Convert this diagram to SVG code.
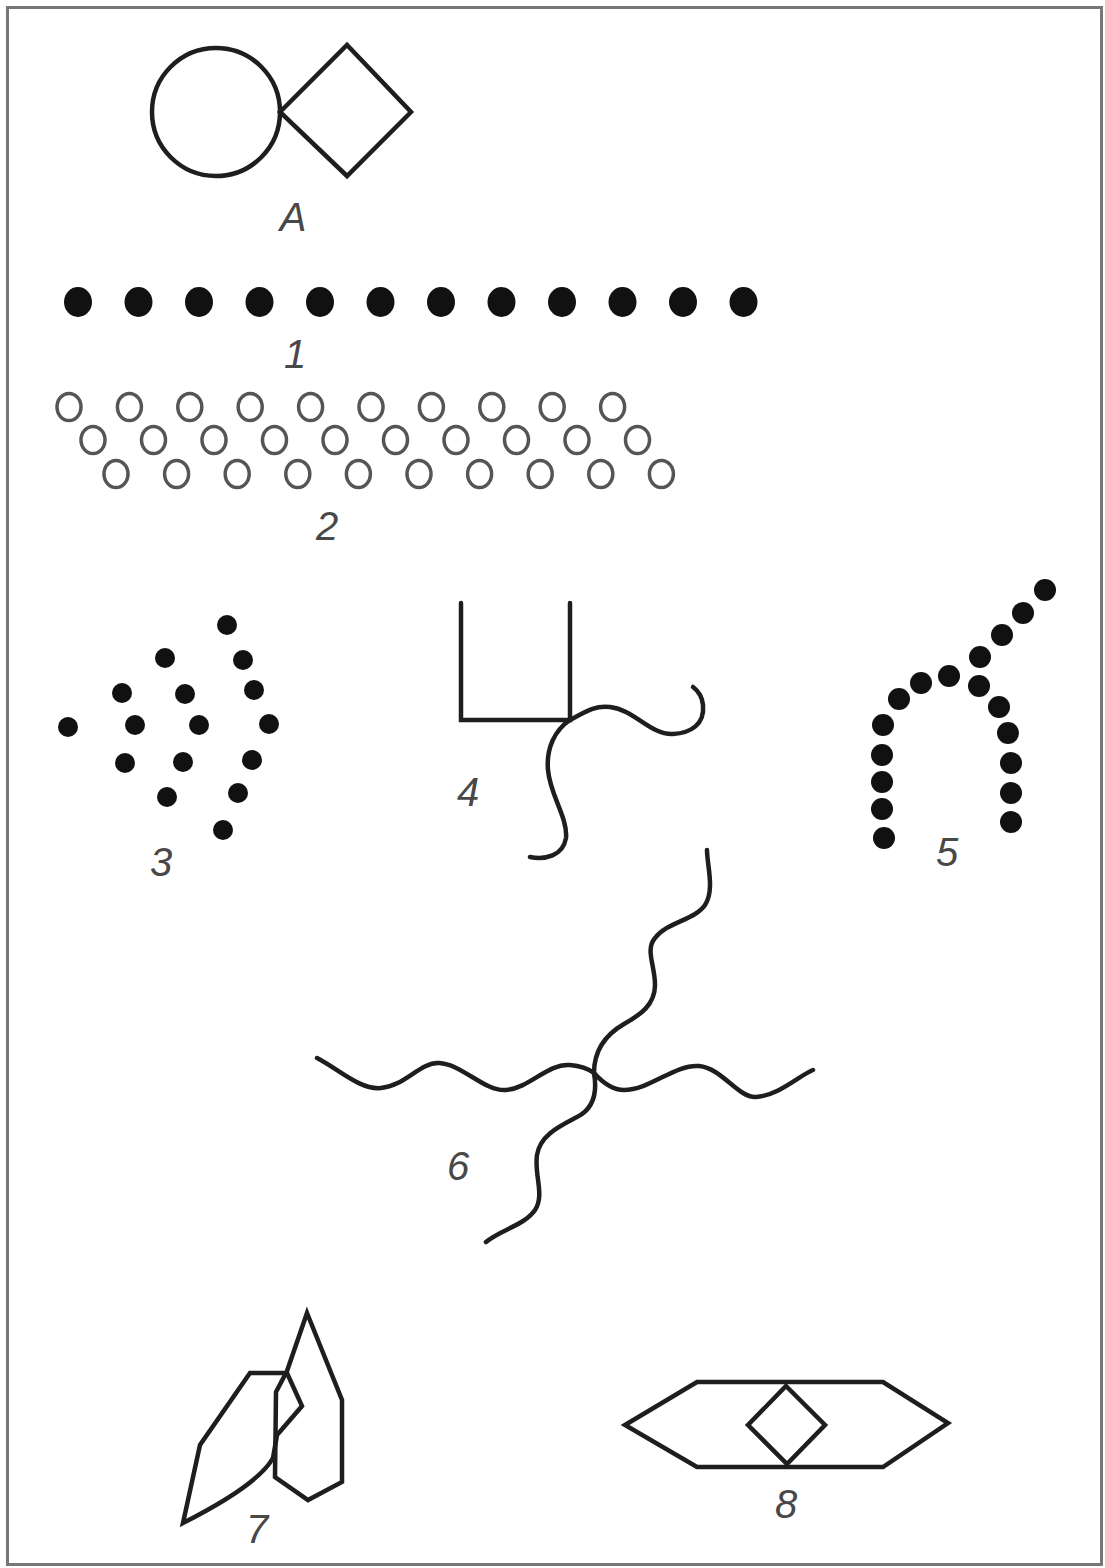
<svg xmlns="http://www.w3.org/2000/svg" width="1105" height="1568" viewBox="0 0 1105 1568">
<style>
.ln{fill:none;stroke:#1e1e1e;stroke-width:4.5;stroke-linejoin:miter;stroke-linecap:round}
.dot{fill:#111}
.oc{fill:none;stroke:#555;stroke-width:3.5}
.lbl{font-family:"Liberation Sans",Arial,sans-serif;font-style:italic;font-size:40px;fill:#484848;text-anchor:middle}
</style>
<rect x="0" y="0" width="1105" height="1568" fill="#fff"/>
<rect x="7.5" y="7.5" width="1094" height="1557" fill="none" stroke="#777" stroke-width="3"/>

<g id="figA">
<circle class="ln" cx="216" cy="112" r="64"/>
<polygon class="ln" points="280,112 347,45 411,112 347,176"/>
<text class="lbl" x="293" y="231">A</text>
</g>

<g id="fig1">
<g class="dot">
<ellipse cx="78" cy="302" rx="14" ry="15"/>
<ellipse cx="138.5" cy="302" rx="14" ry="15"/>
<ellipse cx="199" cy="302" rx="14" ry="15"/>
<ellipse cx="259.5" cy="302" rx="14" ry="15"/>
<ellipse cx="320" cy="302" rx="14" ry="15"/>
<ellipse cx="380.5" cy="302" rx="14" ry="15"/>
<ellipse cx="441" cy="302" rx="14" ry="15"/>
<ellipse cx="501.5" cy="302" rx="14" ry="15"/>
<ellipse cx="562" cy="302" rx="14" ry="15"/>
<ellipse cx="622.5" cy="302" rx="14" ry="15"/>
<ellipse cx="683" cy="302" rx="14" ry="15"/>
<ellipse cx="743.5" cy="302" rx="14" ry="15"/>
</g>
<text class="lbl" x="295" y="368">1</text>
</g>

<g id="fig2">
<g class="oc">
<ellipse cx="69" cy="407" rx="12" ry="13.5"/><ellipse cx="129.4" cy="407" rx="12" ry="13.5"/><ellipse cx="189.8" cy="407" rx="12" ry="13.5"/><ellipse cx="250.2" cy="407" rx="12" ry="13.5"/><ellipse cx="310.6" cy="407" rx="12" ry="13.5"/><ellipse cx="371" cy="407" rx="12" ry="13.5"/><ellipse cx="431.4" cy="407" rx="12" ry="13.5"/><ellipse cx="491.8" cy="407" rx="12" ry="13.5"/><ellipse cx="552.2" cy="407" rx="12" ry="13.5"/><ellipse cx="612.6" cy="407" rx="12" ry="13.5"/>
<ellipse cx="93" cy="440" rx="12" ry="13.5"/><ellipse cx="153.5" cy="440" rx="12" ry="13.5"/><ellipse cx="214" cy="440" rx="12" ry="13.5"/><ellipse cx="274.5" cy="440" rx="12" ry="13.5"/><ellipse cx="335" cy="440" rx="12" ry="13.5"/><ellipse cx="395.5" cy="440" rx="12" ry="13.5"/><ellipse cx="456" cy="440" rx="12" ry="13.5"/><ellipse cx="516.5" cy="440" rx="12" ry="13.5"/><ellipse cx="577" cy="440" rx="12" ry="13.5"/><ellipse cx="637.5" cy="440" rx="12" ry="13.5"/>
<ellipse cx="116" cy="474" rx="12" ry="13.5"/><ellipse cx="176.6" cy="474" rx="12" ry="13.5"/><ellipse cx="237.2" cy="474" rx="12" ry="13.5"/><ellipse cx="297.8" cy="474" rx="12" ry="13.5"/><ellipse cx="358.4" cy="474" rx="12" ry="13.5"/><ellipse cx="419" cy="474" rx="12" ry="13.5"/><ellipse cx="479.6" cy="474" rx="12" ry="13.5"/><ellipse cx="540.2" cy="474" rx="12" ry="13.5"/><ellipse cx="600.8" cy="474" rx="12" ry="13.5"/><ellipse cx="661.4" cy="474" rx="12" ry="13.5"/>
</g>
<text class="lbl" x="327" y="540">2</text>
</g>

<g id="fig3">
<g class="dot">
<circle cx="227" cy="625" r="10"/>
<circle cx="165" cy="658" r="10"/>
<circle cx="243" cy="660" r="10"/>
<circle cx="122" cy="693" r="10"/>
<circle cx="185" cy="694" r="10"/>
<circle cx="254" cy="690" r="10"/>
<circle cx="68" cy="727" r="10"/>
<circle cx="135" cy="725" r="10"/>
<circle cx="199" cy="725" r="10"/>
<circle cx="269" cy="724" r="10"/>
<circle cx="125" cy="763" r="10"/>
<circle cx="183" cy="762" r="10"/>
<circle cx="252" cy="760" r="10"/>
<circle cx="167" cy="797" r="10"/>
<circle cx="238" cy="793" r="10"/>
<circle cx="223" cy="830" r="10"/>
</g>
<text class="lbl" x="161" y="876">3</text>
</g>

<g id="fig4">
<polyline class="ln" points="461,603 461,720 570,720 570,603"/>
<path class="ln" d="M570,720 C585,712 595,705 610,707 C635,710 650,735 673,734 C690,733 705,725 703,705 C702,695 697,690 693,687"/>
<path class="ln" d="M570,720 C555,730 546,748 548,770 C550,795 568,818 566,838 C563,856 545,860 530,857"/>
<text class="lbl" x="468" y="806">4</text>
</g>

<g id="fig5">
<g class="dot">
<circle cx="1045" cy="590" r="11"/>
<circle cx="1023" cy="613" r="11"/>
<circle cx="1002" cy="635" r="11"/>
<circle cx="980" cy="657" r="11"/>
<circle cx="949" cy="676" r="11"/>
<circle cx="921" cy="683" r="11"/>
<circle cx="899" cy="699" r="11"/>
<circle cx="979" cy="686" r="11"/>
<circle cx="999" cy="707" r="11"/>
<circle cx="1008" cy="733" r="11"/>
<circle cx="1011" cy="763" r="11"/>
<circle cx="1011" cy="793" r="11"/>
<circle cx="1011" cy="822" r="11"/>
<circle cx="883" cy="725" r="11"/>
<circle cx="882" cy="755" r="11"/>
<circle cx="882" cy="782" r="11"/>
<circle cx="882" cy="809" r="11"/>
<circle cx="884" cy="838" r="11"/>
</g>
<text class="lbl" x="947" y="866">5</text>
</g>

<g id="fig6">
<path class="ln" d="M317,1058 C340,1070 360,1090 381,1088 C405,1086 420,1062 439,1063 C462,1064 485,1092 506,1090 C530,1088 548,1063 570,1065 C582,1066 590,1070 594,1073"/>
<path class="ln" d="M594,1073 C603,1083 612,1090 624,1090 C650,1090 675,1064 699,1066 C722,1068 738,1098 756,1097 C778,1096 800,1075 813,1070"/>
<path class="ln" d="M594,1073 C594,1050 605,1035 624,1024 C640,1015 655,1005 655,985 C655,965 645,950 655,938 C667,922 695,920 705,905 C715,890 707,865 707,850"/>
<path class="ln" d="M594,1073 C597,1090 595,1108 577,1117 C560,1126 540,1135 537,1155 C534,1175 545,1195 535,1210 C525,1225 500,1230 486,1242"/>
<text class="lbl" x="458" y="1180">6</text>
</g>

<g id="fig7">
<path class="ln" d="M183,1523 L200,1445 L250,1373 L287,1373 L302,1406 L277,1435 L273,1458 Q258,1485 183,1523 Z"/>
<polygon class="ln" points="307,1313 342,1400 342,1482 308,1500 275,1477 276,1392 287,1371"/>
<text class="lbl" x="257" y="1543">7</text>
</g>

<g id="fig8">
<polygon class="ln" points="625,1425 697,1382 883,1382 948,1423 883,1467 697,1467"/>
<polygon class="ln" points="786,1386 825,1425 787,1464 748,1425"/>
<text class="lbl" x="786" y="1518">8</text>
</g>
</svg>
